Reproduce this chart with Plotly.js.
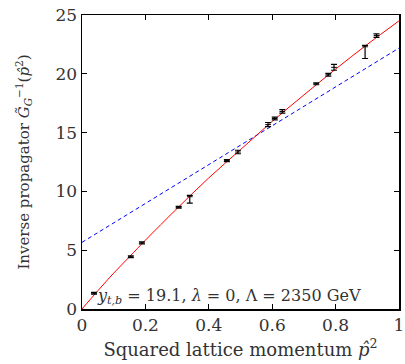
<!DOCTYPE html>
<html>
<head>
<meta charset="utf-8">
<script src="https://cdn.plot.ly/plotly-3.0.1.min.js"></script>
<style>html,body{margin:0;padding:0;background:#fff;}#chart{width:405px;height:364px;}</style>
</head>
<body>
<div id="chart"></div>
<script>
// Lattice data: squared momentum, inverse propagator, asymmetric errors
const pSq     = [0.038, 0.154, 0.189, 0.305, 0.340, 0.457, 0.492, 0.587, 0.608, 0.632, 0.739, 0.777, 0.795, 0.893, 0.929];
const invProp = [1.34, 4.45, 5.62, 8.65, 9.55, 12.62, 13.35, 15.68, 16.2, 16.8, 19.15, 19.92, 20.55, 22.3, 23.25];
const errPlus = [0.08, 0.08, 0.08, 0.08, 0.12, 0.08, 0.15, 0.18, 0.12, 0.15, 0.08, 0.12, 0.25, 0.12, 0.15];
const errMinus= [0.08, 0.08, 0.08, 0.08, 0.55, 0.08, 0.15, 0.18, 0.12, 0.15, 0.08, 0.12, 0.25, 1.0, 0.15];

// Red fit curve
const redFitX = [0, 0.05, 0.1, 0.15, 0.2, 0.3, 0.4, 0.5, 0.6, 0.7, 0.8, 0.9, 1.0];
const redFitY = [0, 1.55, 3.05, 4.45, 5.85, 8.55, 11.15, 13.55, 15.95, 18.2, 20.4, 22.5, 24.5];
// Blue straight fit line, end points
const blueFitX = [0, 1];
const blueFitY = [5.67, 22.19];

const xTicks = [0, 0.2, 0.4, 0.6, 0.8, 1];
const xTickText = ['0', '0.2', '0.4', '0.6', '0.8', '1'];
const yTicks = [0, 5, 10, 15, 20, 25];
const yTickText = ['0', '5', '10', '15', '20', '25'];

const serif = 'DejaVu Serif';
const txt = '#333';

const traces = [
  {x: blueFitX, y: blueFitY, mode: 'lines', line: {color: '#0000ff', width: 1, dash: '4px,3px'}, hoverinfo: 'skip'},
  {x: redFitX, y: redFitY, mode: 'lines', line: {color: '#ff0000', width: 1, shape: 'spline'}, hoverinfo: 'skip'},
  {x: pSq, y: invProp, mode: 'markers',
   marker: {symbol: 'line-ew-open', size: 4, color: '#000', line: {color: '#000', width: 1}},
   error_y: {type: 'data', symmetric: false, array: errPlus, arrayminus: errMinus, color: '#000', thickness: 1.2, width: 3}}
];

const axisCommon = {
  showgrid: false, zeroline: false, showline: true, linecolor: '#000', linewidth: 1.5,
  mirror: 'allticks', ticks: 'inside', ticklen: 5, tickwidth: 1, tickcolor: '#000',
  tickfont: {family: serif, size: 17, color: txt}
};

const layout = {
  width: 405, height: 364,
  margin: {l: 82, r: 6, t: 15, b: 55},
  paper_bgcolor: '#fff', plot_bgcolor: '#fff',
  showlegend: false,
  font: {family: serif, color: txt},
  xaxis: Object.assign({}, axisCommon, {
    range: [0, 1], tickvals: xTicks, ticktext: xTickText,
    title: {text: 'Squared lattice momentum <i>p̂</i><sup>2</sup>', font: {family: serif, size: 18, color: txt}, standoff: 9}
  }),
  yaxis: Object.assign({}, axisCommon, {
    range: [0, 25], tickvals: yTicks, ticktext: yTickText,
    title: {text: 'Inverse propagator <i>G̃</i><sub><i>G</i></sub><sup>−1</sup>(<i>p̂</i><sup>2</sup>)', font: {family: serif, size: 15, color: txt}, standoff: 22}
  }),
  annotations: [{
    xref: 'paper', yref: 'paper', x: 0.04, y: 0.0, xanchor: 'left', yanchor: 'bottom', showarrow: false,
    text: '<i>y</i><sub><i>t,b</i></sub> = 19.1, <i>λ</i> = 0, Λ = 2350 GeV',
    font: {family: serif, size: 16, color: txt}
  }]
};

Plotly.newPlot('chart', traces, layout, {displayModeBar: false, staticPlot: true});
</script>
</body>
</html>
